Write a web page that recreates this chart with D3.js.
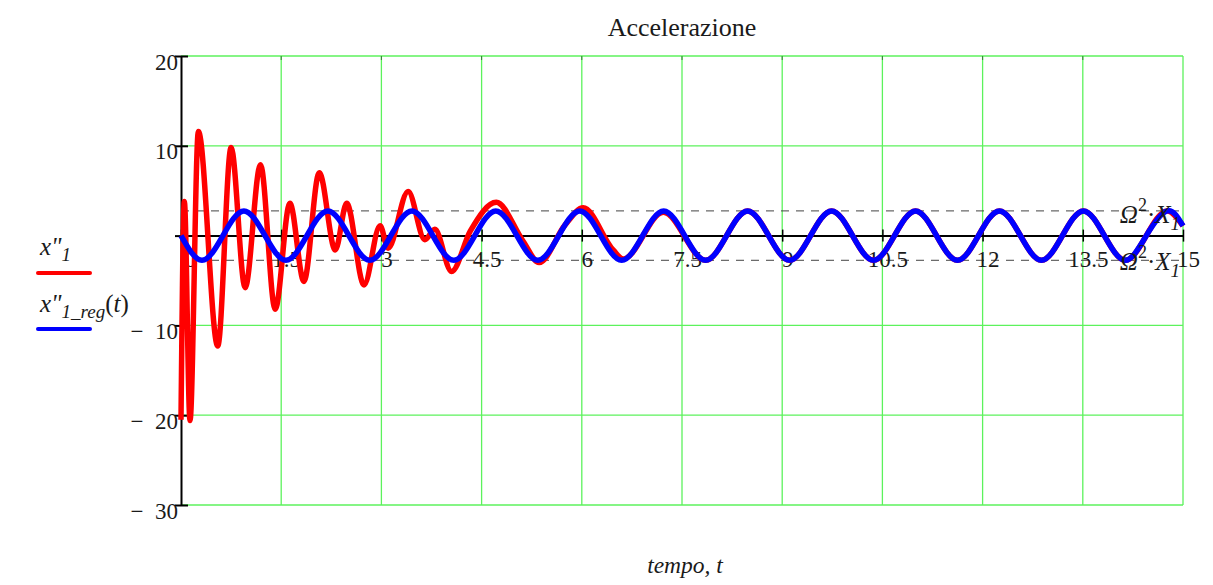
<!DOCTYPE html>
<html>
<head>
<meta charset="utf-8">
<script src="https://cdn.jsdelivr.net/npm/d3@7"></script>
<style>
  body { margin: 0; background: #fff; }
  text { font-family: "Liberation Serif", "Times New Roman", serif; fill: #1a1a1a; }
</style>
</head>
<body>
<div id="chart-area"></div>
<script>
// tick values
const timeTicks = [0, 1.5, 3, 4.5, 6, 7.5, 9, 10.5, 12, 13.5, 15]
const timeLabels = ["0", "1.5", "3", "4.5", "6", "7.5", "9", "10.5", "12", "13.5", "15"]
const accTicks = [20, 10, 0, -10, -20, -30]
const accLabels = ["20", "10", "", "\u2212\u200210", "\u2212\u200220", "\u2212\u200230"]

// steady state amplitude (Omega^2 * X1)
const regAmp = 2.75

// x''1 : transient, extrema
const redTime = [0, 0.05, 0.135, 0.26, 0.55, 0.75, 0.96, 1.19, 1.41, 1.63,
  1.84, 2.07, 2.31, 2.48, 2.74, 2.98, 3.10, 3.40, 3.65, 3.80,
  4.05, 4.33, 4.72, 5.12, 5.36, 5.75, 6.02, 6.47, 6.62, 7.22,
  7.854, 8.482, 9.111, 9.739, 10.367, 10.996, 11.624, 12.252, 12.881, 13.509,
  14.137, 14.765, 15]
const redAcc = [-20.5, 3.8, -20.6, 11.6, -12.3, 9.8, -5.8, 7.9, -8.2, 3.6,
  -5.1, 7.0, -1.6, 3.6, -5.5, 1.1, -1.4, 4.9, -0.45, 0.7,
  -4.0, 0.5, 3.7, -0.6, -3.0, 1.2, 3.1, -1.6, -2.6, 2.6,
  -2.75, 2.75, -2.75, 2.75, -2.75, 2.75, -2.75, 2.75, -2.75, 2.75,
  -2.75, 2.75, 1.07]

// x''1_reg(t) : zero crossings and extrema
const blueTime = [0, 0.314, 0.628, 0.942, 1.257, 1.571, 1.885, 2.199, 2.513, 2.827,
  3.142, 3.456, 3.770, 4.084, 4.398, 4.712, 5.027, 5.341, 5.655, 5.969,
  6.283, 6.597, 6.912, 7.226, 7.540, 7.854, 8.168, 8.482, 8.796, 9.111,
  9.425, 9.739, 10.053, 10.367, 10.681, 10.996, 11.310, 11.624, 11.938, 12.252,
  12.566, 12.881, 13.195, 13.509, 13.823, 14.137, 14.451, 14.765, 15]
const blueAcc = [0, -2.75, 0, 2.75, 0, -2.75, 0, 2.75, 0, -2.75,
  0, 2.75, 0, -2.75, 0, 2.75, 0, -2.75, 0, 2.75,
  0, -2.75, 0, 2.75, 0, -2.75, 0, 2.75, 0, -2.75,
  0, 2.75, 0, -2.75, 0, 2.75, 0, -2.75, 0, 2.75,
  0, -2.75, 0, 2.75, 0, -2.75, 0, 2.75, 1.07]

const MARGIN = { LEFT: 181, RIGHT: 30, TOP: 56, BOTTOM: 80 }
const WIDTH = 1213 - MARGIN.LEFT - MARGIN.RIGHT
const HEIGHT = 585 - MARGIN.TOP - MARGIN.BOTTOM

const svg = d3.select("#chart-area").append("svg")
  .attr("width", 1213)
  .attr("height", 585)

svg.append("rect").attr("width", 1213).attr("height", 585).attr("fill", "#fff")

const g = svg.append("g")
  .attr("transform", `translate(${MARGIN.LEFT}, ${MARGIN.TOP})`)

const x = d3.scaleLinear().domain([0, 15]).range([0, WIDTH])
const y = d3.scaleLinear().domain([-30, 20]).range([HEIGHT, 0])

// grid
const GRID = "#5cf25c"
g.append("g").selectAll("line")
  .data(timeTicks.filter(d => d > 0))
  .enter().append("line")
    .attr("x1", d => x(d)).attr("x2", d => x(d))
    .attr("y1", 0).attr("y2", HEIGHT)
    .attr("stroke", GRID).attr("stroke-width", 1.3)

g.append("g").selectAll("line")
  .data(accTicks.filter(d => d !== 0))
  .enter().append("line")
    .attr("x1", 0).attr("x2", WIDTH)
    .attr("y1", d => y(d)).attr("y2", d => y(d))
    .attr("stroke", GRID).attr("stroke-width", 1.3)

// small ticks along the top border
g.append("g").selectAll("line")
  .data(timeTicks.filter(d => d > 0 && d < 15))
  .enter().append("line")
    .attr("x1", d => x(d)).attr("x2", d => x(d))
    .attr("y1", 0).attr("y2", 4)
    .attr("stroke", "#3a7a3a").attr("stroke-width", 1)

// steady state bounds
g.append("g").selectAll("line")
  .data([regAmp, -regAmp])
  .enter().append("line")
    .attr("x1", 0).attr("x2", WIDTH)
    .attr("y1", d => y(d)).attr("y2", d => y(d))
    .attr("stroke", "#444").attr("stroke-width", 1)
    .attr("stroke-dasharray", "8,7")

// x axis through zero
const xAxisCall = d3.axisBottom(x)
  .tickValues(timeTicks)
  .tickSizeInner(6)
  .tickSizeOuter(0)
  .tickFormat((d, i) => timeLabels[i])
const xAxis = g.append("g")
  .attr("class", "x axis")
  .attr("transform", `translate(0, ${y(0)})`)
  .call(xAxisCall)
xAxis.select(".domain").attr("stroke", "#000").attr("stroke-width", 2)
xAxis.selectAll(".tick line").attr("y1", -6).attr("y2", 6).attr("stroke", "#000").attr("stroke-width", 1.5)
xAxis.selectAll(".tick text")
  .attr("y", 31).attr("dy", 0)
  .attr("x", d => d === 0 ? 9 : 5)
  .attr("font-size", "23px")
  .attr("font-family", "Liberation Serif")
  .attr("fill", "#1a1a1a")

// y axis
const yAxisCall = d3.axisLeft(y)
  .tickValues(accTicks)
  .tickSizeInner(6)
  .tickSizeOuter(0)
  .tickFormat((d, i) => accLabels[i])
const yAxis = g.append("g")
  .attr("class", "y axis")
  .call(yAxisCall)
yAxis.select(".domain").attr("stroke", "#000").attr("stroke-width", 2)
yAxis.selectAll(".tick line").attr("x1", -6).attr("x2", 7).attr("stroke", "#000").attr("stroke-width", 2)
yAxis.selectAll(".tick text")
  .attr("x", -3).attr("dy", 0).attr("y", 13)
  .attr("font-size", "23px")
  .attr("font-family", "Liberation Serif")
  .attr("fill", "#1a1a1a")

// curves
const redData = redTime.map((t, i) => ({ t: t, v: redAcc[i] }))
const blueData = blueTime.map((t, i) => ({ t: t, v: blueAcc[i] }))

const redLine = d3.line().x(d => x(d.t)).y(d => y(d.v)).curve(d3.curveMonotoneX)
const blueLine = d3.line().x(d => x(d.t)).y(d => y(d.v)).curve(d3.curveNatural)

g.append("path")
  .datum(redData)
  .attr("d", redLine)
  .attr("fill", "none")
  .attr("stroke", "#ff0000")
  .attr("stroke-width", 5.5)
  .attr("stroke-linejoin", "round")

g.append("path")
  .datum(blueData)
  .attr("d", blueLine)
  .attr("fill", "none")
  .attr("stroke", "#0000ff")
  .attr("stroke-width", 5.5)
  .attr("stroke-linejoin", "round")

// Omega^2 X1 markers
const markLabel = (yy) => {
  const t = g.append("text")
    .attr("x", x(15) - 3)
    .attr("y", yy)
    .attr("text-anchor", "end")
    .attr("font-size", "25px")
  t.append("tspan").attr("font-style", "italic").text("\u03A9")
  t.append("tspan").attr("font-size", "18px").attr("dy", -12).text("2")
  t.append("tspan").attr("dy", 12).text("\u00B7")
  t.append("tspan").attr("font-style", "italic").text("X")
  t.append("tspan").attr("font-style", "italic").attr("font-size", "19px").attr("dy", 7).text("1")
}
markLabel(y(regAmp) + 12)
markLabel(y(-regAmp) + 10)

// title
svg.append("text")
  .attr("x", MARGIN.LEFT + WIDTH / 2)
  .attr("y", 36)
  .attr("text-anchor", "middle")
  .attr("font-size", "26px")
  .text("Accelerazione")

// x label
svg.append("text")
  .attr("x", MARGIN.LEFT + WIDTH / 2 + 3)
  .attr("y", 573)
  .attr("text-anchor", "middle")
  .attr("font-size", "23.5px")
  .attr("font-style", "italic")
  .text("tempo, t")

// legend
const leg1 = svg.append("text").attr("x", 40).attr("y", 255).attr("font-size", "25px")
leg1.append("tspan").attr("font-style", "italic").text("x\"")
leg1.append("tspan").attr("font-style", "italic").attr("font-size", "19px").attr("dy", 6).text("1")
svg.append("line")
  .attr("x1", 38).attr("x2", 90).attr("y1", 273).attr("y2", 273)
  .attr("stroke", "#ff0000").attr("stroke-width", 4).attr("stroke-linecap", "round")

const leg2 = svg.append("text").attr("x", 40).attr("y", 312).attr("font-size", "25px")
leg2.append("tspan").attr("font-style", "italic").text("x\"")
leg2.append("tspan").attr("font-style", "italic").attr("font-size", "19px").attr("dy", 6).text("1_reg")
leg2.append("tspan").attr("dy", -6).text("(")
leg2.append("tspan").attr("font-style", "italic").text("t")
leg2.append("tspan").text(")")
svg.append("line")
  .attr("x1", 38).attr("x2", 90).attr("y1", 329).attr("y2", 329)
  .attr("stroke", "#0000ff").attr("stroke-width", 4).attr("stroke-linecap", "round")
</script>
</body>
</html>
